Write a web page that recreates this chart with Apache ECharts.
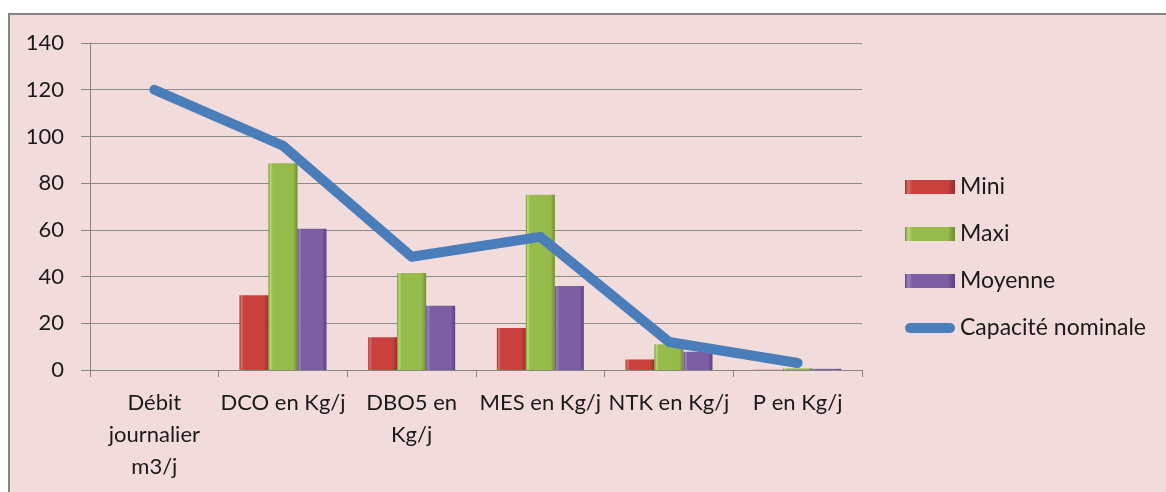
<!DOCTYPE html>
<html>
<head>
<meta charset="utf-8">
<style>
html,body{margin:0;padding:0;background:#ffffff;}
#chart{width:1166px;height:492px;}
</style>
<script src="https://cdn.jsdelivr.net/npm/echarts@6/dist/echarts.min.js"></script>
</head>
<body>
<div id="chart"></div>
<script>
var categories = ['Débit\njournalier\nm3/j', 'DCO en Kg/j', 'DBO5 en\nKg/j', 'MES en Kg/j', 'NTK en Kg/j', 'P en Kg/j'];
var mini = [0, 32, 14, 18, 4.5, 0.1];
var maxi = [0, 88.5, 41.5, 75, 11, 0.7];
var moyenne = [0, 60.5, 27.5, 36, 7.8, 0.5];
var capacite = [120, 96, 48.5, 57, 12, 3];
var yTicks = { min: 0, max: 140, interval: 20 };

function grad(light, mid, dark) {
  return new echarts.graphic.LinearGradient(0, 0, 1, 0, [
    { offset: 0, color: dark },
    { offset: 0.06, color: light },
    { offset: 0.15, color: mid },
    { offset: 0.85, color: mid },
    { offset: 1, color: dark }
  ]);
}
var redFill = grad('#e06a66', '#c8413d', '#9a2f2c');
var greenFill = grad('#b7d96e', '#97bb4a', '#6f8d33');
var purpleFill = grad('#9c82c2', '#7b5ea3', '#5a437b');

var font = 'Lato, "Open Sans", sans-serif';
var chart = echarts.init(document.getElementById('chart'));
chart.setOption({
  animation: false,
  backgroundColor: '#ffffff',
  graphic: [{
    type: 'rect', z: -10, silent: true,
    shape: { x: 9, y: 14, width: 1300, height: 600 },
    style: { fill: '#f2dcdb', stroke: '#868686', lineWidth: 2 }
  }],
  grid: { left: 90, right: 304, top: 43, bottom: 122, containLabel: false },
  legend: {
    orient: 'vertical',
    left: 900, top: 170,
    itemWidth: 50, itemHeight: 14, itemGap: 23,
    textStyle: { fontFamily: font, fontSize: 23, color: '#1a1a1a', lineHeight: 24 },
    data: [
      { name: 'Mini', icon: 'rect' },
      { name: 'Maxi', icon: 'rect' },
      { name: 'Moyenne', icon: 'rect' },
      { name: 'Capacité nominale', icon: 'path://M5,0 H45 A5,5 0 0 1 45,10 H5 A5,5 0 0 1 5,0 Z' }
    ]
  },
  xAxis: {
    type: 'category',
    data: categories,
    axisLine: { lineStyle: { color: '#868686', width: 1 } },
    axisTick: { show: true, length: 7, lineStyle: { color: '#868686' } },
    axisLabel: { fontFamily: font, fontSize: 22, color: '#1a1a1a', lineHeight: 32, margin: 17, interval: 0 },
    splitLine: { show: false }
  },
  yAxis: {
    type: 'value',
    min: yTicks.min, max: yTicks.max, interval: yTicks.interval,
    axisLine: { show: true, lineStyle: { color: '#868686', width: 1 } },
    axisTick: { show: true, length: 9, lineStyle: { color: '#868686' } },
    axisLabel: { fontFamily: font, fontSize: 22, color: '#1a1a1a', margin: 26 },
    splitLine: { show: true, lineStyle: { color: '#8c8c8c', width: 1 } }
  },
  series: [
    { name: 'Mini', type: 'bar', data: mini, barWidth: 29, barGap: '0%',
      itemStyle: { color: redFill, borderWidth: 0 } },
    { name: 'Maxi', type: 'bar', data: maxi, barWidth: 29, barGap: '0%',
      itemStyle: { color: greenFill, borderWidth: 0 } },
    { name: 'Moyenne', type: 'bar', data: moyenne, barWidth: 29, barGap: '0%',
      itemStyle: { color: purpleFill, borderWidth: 0 } },
    { name: 'Capacité nominale', type: 'line', data: capacite, symbol: 'none', z: 5,
      itemStyle: { color: '#4a7ebb' },
      lineStyle: { color: '#4a7ebb', width: 10, cap: 'round', join: 'round' } }
  ]
});
</script>
</body>
</html>
